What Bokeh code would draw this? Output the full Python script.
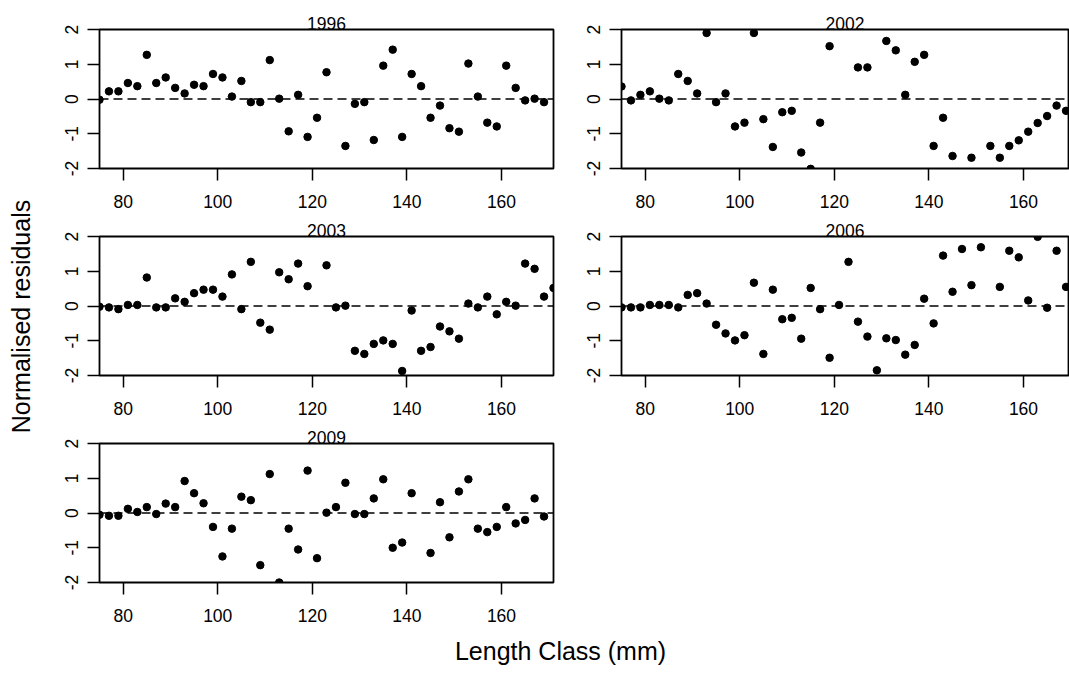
import math
from bokeh.plotting import figure
from bokeh.layouts import column, row
from bokeh.models import FixedTicker, Span, Range1d, ColumnDataSource, PrintfTickFormatter
from bokeh.core.properties import value
from bokeh.embed import file_html
from bokeh.resources import INLINE

nan = float("nan")

# Length classes (mm)
length_class = list(range(75, 173, 2))

# Normalised residuals per year (NaN = not shown / outside plotted range)
r1996 = [-0.02, 0.22, 0.22, 0.46, 0.37, 1.27, 0.46, 0.62, 0.32, 0.16,
         0.41, 0.37, 0.72, 0.62, 0.07, 0.52, -0.09, -0.09, 1.12, 0.01,
         -0.93, 0.12, -1.09, -0.54, 0.77, nan, -1.35, -0.14, -0.09, -1.18,
         0.96, 1.42, -1.09, 0.72, 0.37, -0.54, -0.19, -0.84, -0.94, 1.02,
         0.07, -0.68, -0.79, 0.96, 0.32, -0.04, 0.01, -0.09, nan]
r2002 = [0.36, -0.04, 0.12, 0.22, 0.01, -0.04, 0.72, 0.52, 0.16, 1.90,
         -0.09, 0.16, -0.79, -0.68, 1.90, -0.58, -1.38, -0.38, -0.34, -1.54,
         -2.01, -0.68, 1.52, nan, nan, 0.91, 0.91, nan, 1.67, 1.40,
         0.12, 1.07, 1.27, -1.35, -0.54, -1.64, nan, -1.69, nan, -1.35,
         -1.69, -1.35, -1.19, -0.94, -0.69, -0.49, -0.19, -0.34, nan]
r2003 = [-0.02, -0.04, -0.09, 0.03, 0.03, 0.82, -0.04, -0.04, 0.22, 0.12,
         0.37, 0.47, 0.47, 0.27, 0.91, -0.09, 1.27, -0.48, -0.68, 0.97,
         0.77, 1.22, 0.57, nan, 1.17, -0.04, 0.01, -1.29, -1.38, -1.09,
         -0.99, -1.09, -1.87, -0.13, -1.29, -1.18, -0.59, -0.73, -0.94, 0.07,
         -0.04, 0.27, -0.24, 0.12, 0.01, 1.22, 1.07, 0.27, 0.52]
r2006 = [-0.04, -0.04, -0.04, 0.03, 0.03, 0.03, -0.04, 0.32, 0.37, 0.07,
         -0.54, -0.79, -0.99, -0.84, 0.67, -1.38, 0.47, -0.38, -0.34, -0.94,
         0.52, -0.09, -1.49, 0.03, 1.27, -0.45, -0.88, -1.85, -0.93, -0.98,
         -1.40, -1.12, 0.21, -0.50, 1.45, 0.41, 1.64, 0.60, 1.69, nan,
         0.55, 1.59, 1.40, 0.16, 1.99, -0.05, 1.59, 0.55, nan]
r2009 = [-0.05, -0.08, -0.08, 0.12, 0.03, 0.17, -0.03, 0.27, 0.17, 0.92,
         0.57, 0.28, -0.40, -1.25, -0.45, 0.47, 0.37, -1.50, 1.12, -2.00,
         -0.45, -1.05, 1.22, -1.30, 0.01, 0.17, 0.87, -0.03, -0.03, 0.42,
         0.97, -1.00, -0.85, 0.57, nan, -1.15, 0.31, -0.70, 0.62, 0.97,
         -0.45, -0.55, -0.40, 0.17, -0.30, -0.20, 0.42, -0.10, nan]

x_ticks = [80, 100, 120, 140, 160]
y_ticks = [-2, -1, 0, 1, 2]

FONT = "Liberation Sans"
FS = "17.5px"
FS_LAB = "25px"


def panel(year, resid, x_end, frame_w, top, right):
    p = figure(frame_width=frame_w, frame_height=139,
               x_range=Range1d(75, x_end), y_range=Range1d(-2, 2),
               output_backend="svg", toolbar_location=None,
               min_border_left=59, min_border_right=right,
               min_border_top=top, min_border_bottom=46, title=year)
    p.title.text_font = FONT
    p.title.text_font_size = FS
    p.title.text_font_style = "normal"
    p.title.align = "center"
    p.title.standoff = 0
    p.title.text_color = "black"
    p.grid.visible = False
    p.outline_line_color = "black"
    p.outline_line_width = 1.8
    p.outline_line_alpha = 1.0
    p.background_fill_color = "white"
    p.border_fill_color = "white"
    p.xaxis.ticker = FixedTicker(ticks=x_ticks)
    p.yaxis.ticker = FixedTicker(ticks=y_ticks)
    p.yaxis.formatter = PrintfTickFormatter(format="%d")
    p.xaxis.formatter = PrintfTickFormatter(format="%d")
    p.yaxis.major_label_orientation = "vertical"
    for ax in (p.xaxis[0], p.yaxis[0]):
        ax.axis_line_color = None
        ax.major_tick_out = 12
        ax.major_tick_in = 0
        ax.minor_tick_line_color = None
        ax.major_tick_line_width = 1.5
        ax.major_tick_line_color = "black"
        ax.major_label_text_font = FONT
        ax.major_label_text_font_size = FS
        ax.major_label_text_color = "black"
    p.xaxis.major_label_standoff = 14
    p.yaxis.major_label_standoff = 10
    p.add_layout(Span(location=0, dimension="width", line_color="black",
                      line_width=1.3, line_dash="9 5"))
    src = ColumnDataSource(dict(x=length_class, y=resid))
    p.scatter("x", "y", source=src, size=7.5, color="black")
    return p


f1 = panel("1996", r1996, 171, 454, 29, 9)
f2 = panel("2002", r2002, 169.52, 447, 29, 1)
f3 = panel("2003", r2003, 171, 454, 22, 9)
f4 = panel("2006", r2006, 169.52, 447, 22, 1)
f5 = panel("2009", r2009, 171, 454, 22, 9)

rows_h = 214 + 207 + 207

ylab = figure(width=40, height=rows_h, x_range=Range1d(0, 40), y_range=Range1d(0, rows_h),
              output_backend="svg", toolbar_location=None, min_border=0)
ylab.axis.visible = False
ylab.grid.visible = False
ylab.outline_line_color = None
ylab.text(x=[20], y=[rows_h - 316], text=["Normalised residuals"], angle=math.pi / 2,
          text_align="center", text_baseline="middle", text_font=value(FONT),
          text_font_size=FS_LAB, text_color="black")

xlab_h = 690 - rows_h
xlab = figure(width=1069, height=xlab_h, x_range=Range1d(0, 1069), y_range=Range1d(0, xlab_h),
              output_backend="svg", toolbar_location=None, min_border=0)
xlab.axis.visible = False
xlab.grid.visible = False
xlab.outline_line_color = None
xlab.text(x=[560], y=[xlab_h - 22], text=["Length Class (mm)"],
          text_align="center", text_baseline="middle", text_font=value(FONT),
          text_font_size=FS_LAB, text_color="black")

layout = column(row(ylab, column(row(f1, f2), row(f3, f4), row(f5))), xlab)

open("out.html", "w").write(file_html(layout, INLINE))
